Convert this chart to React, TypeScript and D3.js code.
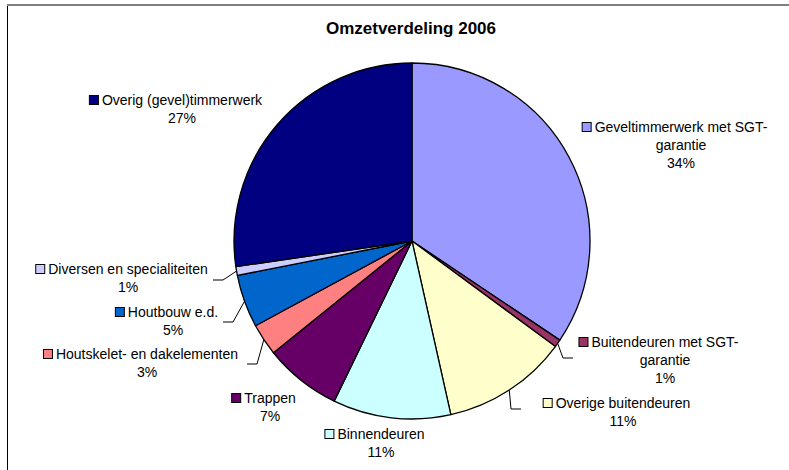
import React from "react";
import * as d3 from "d3";

const title = "Omzetverdeling 2006";
const categories = [
  "Geveltimmerwerk met SGT-garantie",
  "Buitendeuren met SGT-garantie",
  "Overige buitendeuren",
  "Binnendeuren",
  "Trappen",
  "Houtskelet- en dakelementen",
  "Houtbouw e.d.",
  "Diversen en specialiteiten",
  "Overig (gevel)timmerwerk",
];
const values = [34.4, 0.7, 11.4, 10.7, 7.0, 2.9, 4.8, 0.8, 27.3];
const percentLabels = ["34%", "1%", "11%", "11%", "7%", "3%", "5%", "1%", "27%"];
const labelLines = [
  ["Geveltimmerwerk met SGT-", "garantie"],
  ["Buitendeuren met SGT-", "garantie"],
  ["Overige buitendeuren"],
  ["Binnendeuren"],
  ["Trappen"],
  ["Houtskelet- en dakelementen"],
  ["Houtbouw e.d."],
  ["Diversen en specialiteiten"],
  ["Overig (gevel)timmerwerk"],
];
const colors = [
  "#9999FF", "#993366", "#FFFFCC", "#CCFFFF", "#660066",
  "#FF8080", "#0066CC", "#CCCCFF", "#000080",
];

// layout: label text center x, first-line center y
const labelPos: [number, number][] = [
  [681, 127], [665, 342], [623, 403], [381, 434], [270, 398],
  [147, 354], [173, 312], [128, 269], [182, 100],
];
// leader lines: label-side end point and direction
const leaders: { idx: number; end: [number, number]; dir: number }[] = [
  { idx: 1, end: [573, 358], dir: -1 },
  { idx: 2, end: [521, 409], dir: -1 },
  { idx: 5, end: [247, 364], dir: 1 },
  { idx: 6, end: [223, 322], dir: 1 },
  { idx: 7, end: [213, 280], dir: 1 },
];

const W = 789, H = 470;
const cx = 412, cy = 241, R = 178;
const FONT = "'Liberation Sans', Arial, sans-serif";
const FS = 14, LH = 18;

function measure(text: string): number {
  const c = document.createElement("canvas").getContext("2d");
  if (!c) return text.length * 7;
  c.font = `${FS}px 'Liberation Sans', Arial, sans-serif`;
  return c.measureText(text).width;
}

export default function App() {
  const pie = d3.pie<number>().sort(null).value((d) => d)(values);
  const arc = d3.arc<d3.PieArcDatum<number>>().innerRadius(0).outerRadius(R);
  const widths = React.useMemo(() => labelLines.map((l) => measure(l[0])), []);

  return (
    <svg width={W} height={H} style={{ position: "absolute", left: 0, top: 0 }}>
      <rect x={0} y={0} width={W} height={H} fill="#fff" />
      <rect x={7.5} y={5} width={W + 10} height={H + 10} fill="#fff" stroke="#000" strokeWidth={1} />
      <line x1={7} y1={5} x2={W} y2={5} stroke="#808080" strokeWidth={2} />
      <text x={411} y={28} textAnchor="middle" dominantBaseline="central"
        fontFamily={FONT} fontWeight="bold" fontSize={17}>{title}</text>
      <g transform={`translate(${cx},${cy})`}>
        {pie.map((p, i) => (
          <path key={i} d={arc(p) || ""} fill={colors[i]} stroke="#000" strokeWidth={1.3} strokeLinejoin="round" />
        ))}
      </g>
      {leaders.map((l) => {
        const p = pie[l.idx];
        const a = (p.startAngle + p.endAngle) / 2;
        const sx = cx + R * Math.sin(a);
        const sy = cy - R * Math.cos(a);
        const ex = l.end[0] + l.dir * 10;
        return (
          <polyline key={l.idx} points={`${l.end[0]},${l.end[1]} ${ex},${l.end[1]} ${sx},${sy}`}
            fill="none" stroke="#000" strokeWidth={1} />
        );
      })}
      {categories.map((c, i) => {
        const [lx, ly] = labelPos[i];
        const lines = [...labelLines[i], percentLabels[i]];
        return (
          <g key={c} fontFamily={FONT} fontSize={FS} fill="#000">
            <rect x={lx - widths[i] / 2 - 12.5} y={ly - 4.5} width={9} height={9}
              fill={colors[i]} stroke="#000" strokeWidth={1} />
            {lines.map((t, j) => (
              <text key={j} x={lx} y={ly + j * LH} textAnchor="middle" dominantBaseline="central">{t}</text>
            ))}
          </g>
        );
      })}
    </svg>
  );
}
